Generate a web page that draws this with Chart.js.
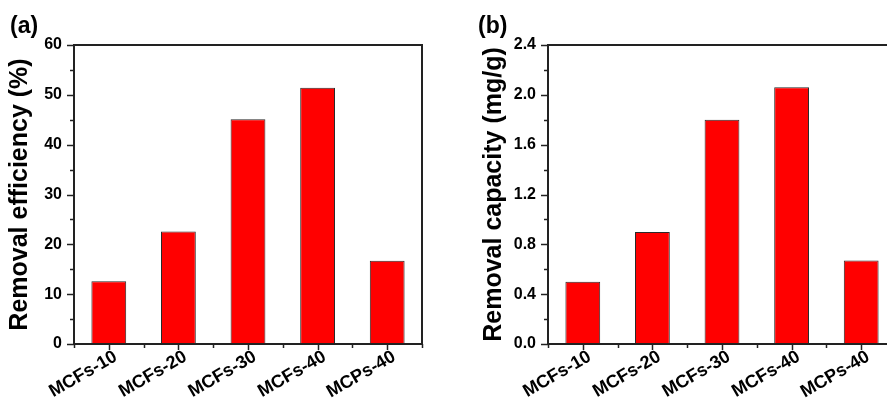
<!DOCTYPE html>
<html>
<head>
<meta charset="utf-8">
<script src="https://cdn.jsdelivr.net/npm/chart.js@4/dist/chart.umd.min.js"></script>
<style>
  html, body { margin: 0; padding: 0; background: #fff; }
  #wrap { position: relative; width: 887px; height: 399px; overflow: hidden; background: #fff; }
  canvas { position: absolute; top: 0; }
  #ca { left: 0; }
  #cb { left: 474px; }
</style>
</head>
<body>
<div id="wrap">
  <canvas id="ca" width="474" height="399"></canvas>
  <canvas id="cb" width="474" height="399"></canvas>
</div>
<script>
// ---- data ----
const categories = ['MCFs-10', 'MCFs-20', 'MCFs-30', 'MCFs-40', 'MCPs-40'];
const efficiency = [12.6, 22.6, 45.1, 51.4, 16.7];       // Removal efficiency (%)
const capacity = [0.50, 0.90, 1.80, 2.06, 0.67];         // Removal capacity (mg/g)
const efficiencyTicks = [0, 10, 20, 30, 40, 50, 60];
const efficiencyMinor = [5, 15, 25, 35, 45, 55];
const capacityTicks = [0.0, 0.4, 0.8, 1.2, 1.6, 2.0, 2.4];
const capacityMinor = [0.2, 0.6, 1.0, 1.4, 1.8, 2.2];

const FONT = "'Liberation Sans', Arial, Helvetica, sans-serif";
const AXIS_COLOR = '#222';

const framePlugin = {
  id: 'frame',
  afterDraw(chart, args, opts) {
    const { ctx, chartArea: a, scales } = chart;
    const x = scales.x, y = scales.y;
    ctx.save();
    ctx.strokeStyle = AXIS_COLOR;
    ctx.lineWidth = 2;
    ctx.strokeRect(a.left, a.top, a.right - a.left, a.bottom - a.top);
    ctx.lineWidth = 1.5;
    const line = (x1, y1, x2, y2) => { ctx.beginPath(); ctx.moveTo(x1, y1); ctx.lineTo(x2, y2); ctx.stroke(); };
    opts.yMajor.forEach(v => { const p = Math.round(y.getPixelForValue(v)) + 0.5; line(a.left - 7, p, a.left, p); });
    opts.yMinor.forEach(v => { const p = Math.round(y.getPixelForValue(v)) + 0.5; line(a.left - 4, p, a.left, p); });
    const n = chart.data.labels.length;
    for (let i = 0; i < n; i++) {
      const p = Math.round(x.getPixelForValue(i)) + 0.5;
      line(p, a.bottom, p, a.bottom + 6);
    }
    for (let i = 0; i <= n; i++) {
      const p = Math.round(x.getPixelForValue(i - 0.5)) + 0.5;
      line(p, a.bottom, p, a.bottom + 4);
    }
    // panel label
    ctx.fillStyle = '#000';
    ctx.font = 'bold 23px ' + FONT;
    ctx.textBaseline = 'alphabetic';
    ctx.textAlign = 'left';
    ctx.fillText(opts.label, opts.labelX, opts.labelY);
    ctx.restore();
  }
};

function makeChart(id, values, yMax, step, majors, minors, title, label, labelX, decimals) {
  return new Chart(document.getElementById(id), {
    type: 'bar',
    data: {
      labels: categories,
      datasets: [{
        data: values,
        backgroundColor: '#ff0000',
        borderColor: '#2a2a2a',
        borderWidth: 1,
        borderSkipped: false,
        categoryPercentage: 1.0,
        barPercentage: 0.5
      }]
    },
    options: {
      responsive: false,
      animation: false,
      devicePixelRatio: 1,
      layout: { padding: { left: 0, top: 45, right: 52, bottom: 0 } },
      plugins: {
        legend: { display: false },
        tooltip: { enabled: false },
        frame: { yMajor: majors, yMinor: minors, label: label, labelX: labelX, labelY: 33 }
      },
      scales: {
        x: {
          offset: true,
          grid: { display: false, drawTicks: false },
          border: { display: false },
          ticks: {
            autoSkip: false,
            minRotation: 30,
            maxRotation: 30,
            padding: 2,
            labelOffset: 7,
            color: '#000',
            font: { family: FONT, size: 18, weight: 'bold' }
          },
          afterFit(scale) { scale.height = 55; }
        },
        y: {
          min: 0,
          max: yMax,
          grid: { display: false, drawTicks: false },
          border: { display: false },
          ticks: {
            stepSize: step,
            padding: 12,
            color: '#000',
            font: { family: FONT, size: 16, weight: 'bold' },
            callback: v => Number(v).toFixed(decimals)
          },
          title: {
            display: true,
            text: title,
            color: '#000',
            font: { family: FONT, size: 25, weight: 'bold' },
            padding: { top: 5, bottom: 0 }
          },
          afterFit(scale) { scale.width = 74; }
        }
      }
    },
    plugins: [framePlugin]
  });
}

makeChart('ca', efficiency, 60, 10, efficiencyTicks, efficiencyMinor, 'Removal efficiency (%)', '(a)', 10, 0);
makeChart('cb', capacity, 2.4, 0.4, capacityTicks, capacityMinor, 'Removal capacity (mg/g)', '(b)', 4, 1);
</script>
</body>
</html>
